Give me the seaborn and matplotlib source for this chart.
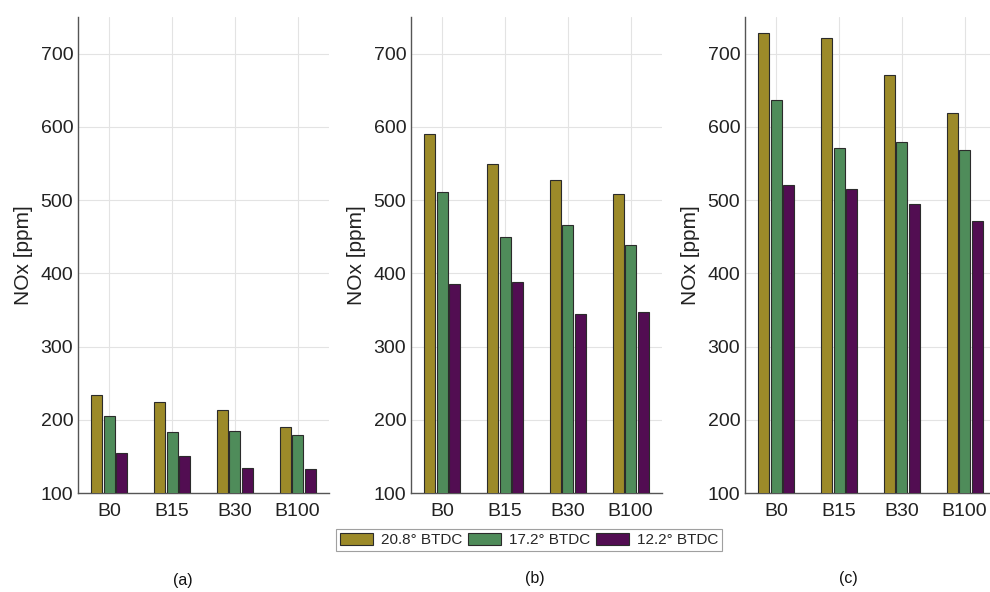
import matplotlib
matplotlib.use("Agg")
import matplotlib.pyplot as plt
import seaborn as sns
import pandas as pd

# Fuel blends and injection timings
blends = ["B0", "B15", "B30", "B100"]
timings = ["20.8° BTDC", "17.2° BTDC", "12.2° BTDC"]

# NOx [ppm] per panel, one list per timing (order follows blends)
nox_a_208 = [234, 224, 214, 190]
nox_a_172 = [205, 183, 185, 179]
nox_a_122 = [155, 151, 134, 133]

nox_b_208 = [590, 549, 528, 508]
nox_b_172 = [511, 449, 466, 438]
nox_b_122 = [386, 388, 344, 347]

nox_c_208 = [728, 722, 671, 619]
nox_c_172 = [637, 571, 579, 569]
nox_c_122 = [520, 515, 494, 472]

panel_labels = ["(a)", "(b)", "(c)"]
y_ticks = [100, 200, 300, 400, 500, 600, 700]

colors = ["#9c8a29", "#4f8c5a", "#520d52"]

panels = [
    [nox_a_208, nox_a_172, nox_a_122],
    [nox_b_208, nox_b_172, nox_b_122],
    [nox_c_208, nox_c_172, nox_c_122],
]

sns.set_theme(style="white")
plt.rcParams["font.family"] = ["Liberation Sans", "DejaVu Sans"]

fig = plt.figure(figsize=(9.9, 5.92), dpi=100)
W, H = 990, 592
lefts = [78, 411, 745]
ax_w, top, bottom = 251, 17, 493
label_xy = [(183, 581), (535, 578), (848, 578)]

axes = []
for i, series in enumerate(panels):
    rows = []
    for t, vals in zip(timings, series):
        for b, v in zip(blends, vals):
            rows.append({"blend": b, "timing": t, "nox": v})
    df = pd.DataFrame(rows)
    ax = fig.add_axes([lefts[i] / W, 1 - bottom / H, ax_w / W, (bottom - top) / H])
    sns.barplot(data=df, x="blend", y="nox", hue="timing", order=blends,
                hue_order=timings, palette=colors, width=0.6, gap=0.13,
                saturation=1, edgecolor="#2b2b2b", linewidth=0.8, ax=ax,
                legend=(i == 0), zorder=3)
    ax.set_xlim(-0.5, 3.5)
    ax.set_ylim(100, 750)
    ax.set_yticks(y_ticks)
    ax.grid(True, color="#e3e3e3", linewidth=0.8, zorder=0)
    ax.set_axisbelow(True)
    for side in ["top", "right"]:
        ax.spines[side].set_visible(False)
    for side in ["left", "bottom"]:
        ax.spines[side].set_color("#555555")
        ax.spines[side].set_linewidth(1.0)
    ax.tick_params(axis="both", labelsize=14, colors="#222222", length=3,
                   direction="in", width=0.8)
    ax.tick_params(axis="x", pad=7)
    ax.set_xlabel("")
    ax.set_ylabel("NOx [ppm]", fontsize=15, color="#222222")
    ax.yaxis.set_label_coords(-0.18, 0.5)
    fig.text(label_xy[i][0] / W, 1 - label_xy[i][1] / H, panel_labels[i],
             ha="center", va="center", fontsize=11.5, color="#111111")
    axes.append(ax)

handles, labels = axes[0].get_legend_handles_labels()
axes[0].get_legend().remove()
leg = fig.legend(handles, labels, loc="center", bbox_to_anchor=(529 / W, 1 - 540 / H),
                 ncol=3, frameon=True, fancybox=False, fontsize=11,
                 handlelength=2.2, handleheight=0.85, handletextpad=0.5,
                 columnspacing=0.35, borderpad=0.25, borderaxespad=0)
leg.get_frame().set_edgecolor("#888888")
leg.get_frame().set_linewidth(0.8)

fig.savefig("out.png", dpi=100)
